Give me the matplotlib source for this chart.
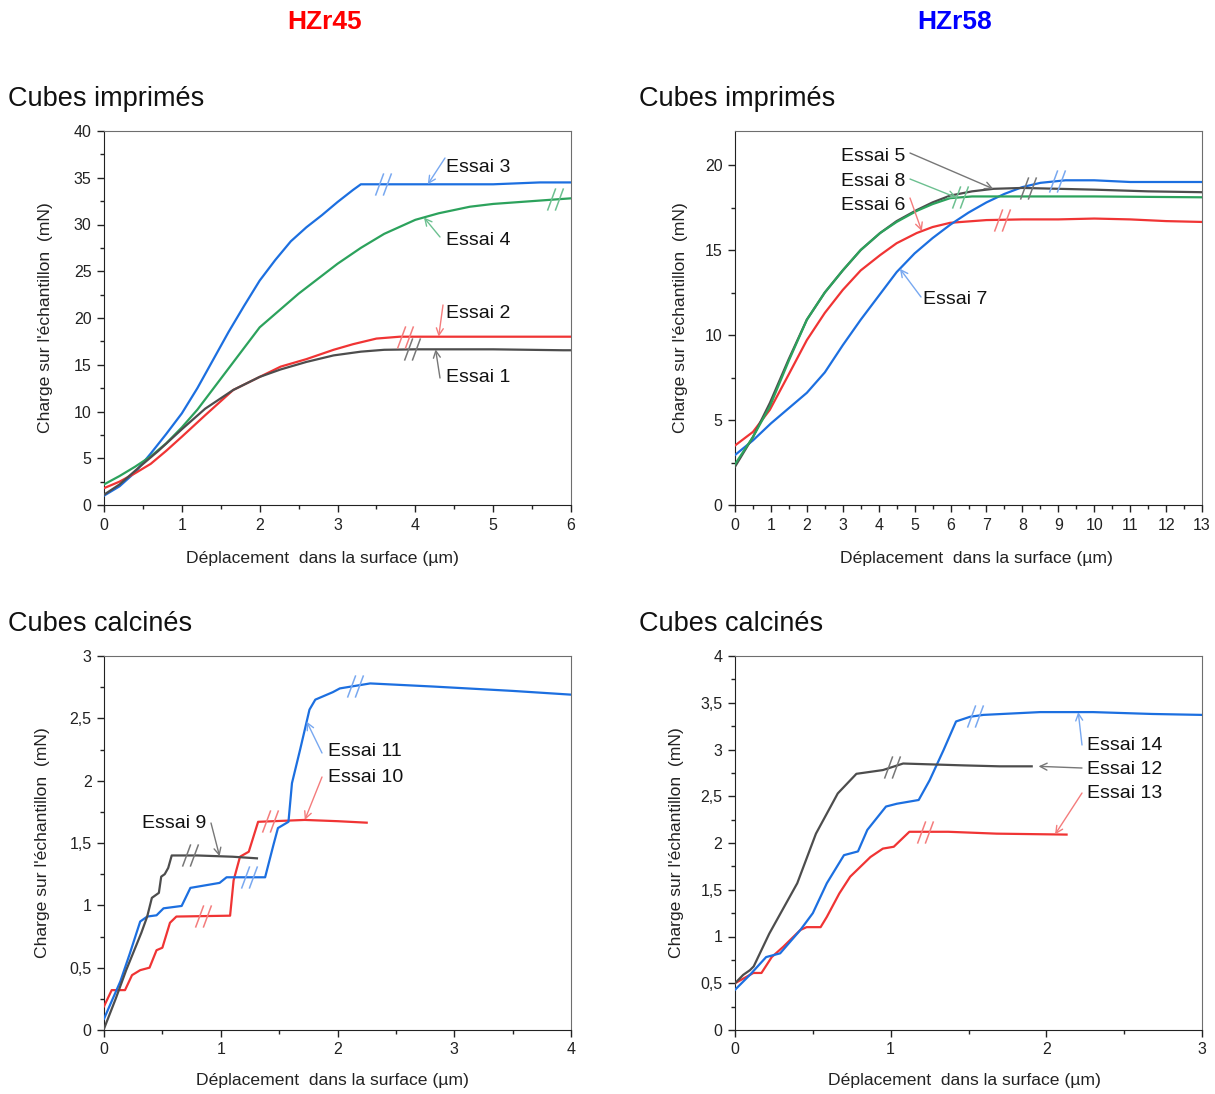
import numpy as np
import matplotlib
matplotlib.use("Agg")
import matplotlib.pyplot as plt
from matplotlib.path import Path
from matplotlib.ticker import MultipleLocator, FuncFormatter

plt.rcParams['font.family'] = ['Liberation Sans', 'DejaVu Sans']

W, H = 1215, 1094

# --- HZr45, cubes imprimés ---
e3_x = [0, 0.2, 0.4, 0.6, 0.8, 1.0, 1.2, 1.4, 1.6, 1.8, 2.0, 2.2, 2.4, 2.6, 2.8, 3.0, 3.2, 3.3, 3.5, 4.0, 5.0, 5.6, 6.0]
e3_y = [1.0, 2.0, 3.5, 5.5, 7.6, 9.8, 12.5, 15.5, 18.5, 21.3, 24.0, 26.2, 28.2, 29.7, 31.0, 32.4, 33.7, 34.3, 34.3, 34.3, 34.3, 34.5, 34.5]
e4_x = [0, 0.2, 0.4, 0.6, 0.8, 1.0, 1.2, 1.5, 2.0, 2.5, 3.0, 3.3, 3.6, 4.0, 4.3, 4.7, 5.0, 5.5, 6.0]
e4_y = [2.2, 3.1, 4.1, 5.2, 6.6, 8.3, 10.2, 13.5, 19.0, 22.6, 25.8, 27.5, 29.0, 30.5, 31.2, 31.9, 32.2, 32.5, 32.8]
e2_x = [0, 0.2, 0.4, 0.6, 0.8, 1.0, 1.3, 1.66, 2.0, 2.27, 2.6, 2.95, 3.2, 3.5, 3.8, 4.5, 5.5, 6.0]
e2_y = [1.8, 2.5, 3.4, 4.4, 5.8, 7.3, 9.6, 12.3, 13.7, 14.8, 15.6, 16.6, 17.2, 17.8, 18.0, 18.0, 18.0, 18.0]
e1_x = [0, 0.2, 0.46, 0.7, 1.0, 1.3, 1.66, 2.0, 2.27, 2.6, 2.95, 3.3, 3.6, 4.0, 5.0, 5.9, 6.0]
e1_y = [1.1, 2.2, 4.1, 5.8, 8.1, 10.3, 12.3, 13.7, 14.5, 15.3, 16.0, 16.4, 16.6, 16.65, 16.65, 16.55, 16.55]

# --- HZr58, cubes imprimés ---
e7_x = [0, 0.5, 1.0, 1.5, 2.0, 2.5, 3.0, 3.5, 4.0, 4.5, 5.0, 5.5, 6.0, 6.5, 7.0, 7.5, 8.0, 8.5, 9.2, 10.0, 11.0, 13.0]
e7_y = [2.94, 3.8, 4.8, 5.7, 6.6, 7.8, 9.4, 10.9, 12.3, 13.7, 14.8, 15.7, 16.5, 17.2, 17.8, 18.3, 18.7, 18.95, 19.1, 19.1, 19.0, 19.0]
e5_x = [0, 0.5, 0.97, 1.5, 2.0, 2.5, 3.0, 3.5, 4.04, 4.5, 5.06, 5.5, 5.99, 6.6, 7.2, 8.0, 9.0, 10.0, 11.5, 13.0]
e5_y = [2.25, 4.0, 6.0, 8.6, 10.9, 12.5, 13.8, 15.0, 16.0, 16.7, 17.35, 17.8, 18.2, 18.45, 18.6, 18.65, 18.6, 18.55, 18.45, 18.4]
e8_x = [0, 0.5, 0.97, 1.5, 2.0, 2.5, 3.0, 3.5, 4.04, 4.5, 5.06, 5.5, 5.99, 6.6, 7.2, 8.0, 10.0, 13.0]
e8_y = [2.4, 4.0, 5.8, 8.5, 10.9, 12.5, 13.8, 15.0, 16.0, 16.65, 17.3, 17.7, 18.05, 18.15, 18.15, 18.15, 18.15, 18.1]
e6_x = [0, 0.5, 0.97, 1.5, 2.0, 2.5, 3.0, 3.5, 4.04, 4.5, 5.06, 5.5, 5.99, 7.0, 8.0, 9.0, 10.0, 11.0, 12.0, 13.0]
e6_y = [3.5, 4.3, 5.6, 7.7, 9.7, 11.3, 12.65, 13.8, 14.7, 15.4, 16.0, 16.35, 16.6, 16.76, 16.8, 16.8, 16.85, 16.8, 16.7, 16.65]

# --- HZr45, cubes calcinés ---
e9_x = [0, 0.1, 0.19, 0.32, 0.37, 0.41, 0.44, 0.47, 0.49, 0.52, 0.55, 0.58, 0.8, 1.1, 1.31]
e9_y = [0.01, 0.25, 0.48, 0.78, 0.91, 1.06, 1.08, 1.10, 1.23, 1.25, 1.30, 1.40, 1.40, 1.39, 1.377]
e11_x = [0, 0.14, 0.22, 0.31, 0.37, 0.45, 0.51, 0.665, 0.74, 0.99, 1.05, 1.38, 1.45, 1.49, 1.58, 1.61, 1.68, 1.76, 1.81, 1.96, 2.02, 2.28, 2.82, 3.5, 4.0]
e11_y = [0.09, 0.39, 0.61, 0.87, 0.91, 0.92, 0.976, 0.995, 1.14, 1.18, 1.225, 1.225, 1.48, 1.62, 1.67, 1.98, 2.25, 2.57, 2.65, 2.71, 2.74, 2.78, 2.755, 2.72, 2.69]
e10_x = [0, 0.066, 0.18, 0.24, 0.31, 0.39, 0.45, 0.5, 0.565, 0.62, 1.08, 1.11, 1.165, 1.24, 1.28, 1.32, 1.72, 2.0, 2.25]
e10_y = [0.19, 0.32, 0.32, 0.44, 0.48, 0.50, 0.64, 0.66, 0.86, 0.91, 0.917, 1.2, 1.39, 1.43, 1.55, 1.67, 1.685, 1.675, 1.663]

# --- HZr58, cubes calcinés ---
e12_x = [0, 0.053, 0.096, 0.12, 0.22, 0.40, 0.52, 0.66, 0.78, 0.95, 1.08, 1.47, 1.7, 1.906]
e12_y = [0.5, 0.59, 0.64, 0.68, 1.03, 1.57, 2.1, 2.53, 2.74, 2.78, 2.85, 2.83, 2.82, 2.82]
e14_x = [0, 0.096, 0.2, 0.29, 0.42, 0.5, 0.59, 0.70, 0.79, 0.85, 0.97, 1.04, 1.18, 1.25, 1.34, 1.42, 1.51, 1.595, 1.96, 2.3, 2.68, 3.0]
e14_y = [0.43, 0.59, 0.78, 0.82, 1.07, 1.25, 1.57, 1.87, 1.91, 2.14, 2.39, 2.42, 2.46, 2.67, 2.995, 3.30, 3.35, 3.37, 3.40, 3.40, 3.38, 3.37]
e13_x = [0, 0.118, 0.17, 0.236, 0.31, 0.42, 0.46, 0.55, 0.59, 0.67, 0.74, 0.87, 0.95, 1.02, 1.12, 1.37, 1.68, 2.13]
e13_y = [0.5, 0.61, 0.61, 0.78, 0.89, 1.07, 1.1, 1.1, 1.21, 1.46, 1.64, 1.85, 1.94, 1.96, 2.12, 2.12, 2.10, 2.09]

BLUE, RED, GREEN, GRAY = '#1c6fe0', '#f03434', '#2ca25c', '#4d4d4d'
LIGHT = {BLUE: '#78a8f0', RED: '#f47c7c', GREEN: '#6cc090', GRAY: '#777777'}

break_marker = Path([(-0.72, -1), (0.02, 1), (-0.02, -1), (0.72, 1)],
                    [Path.MOVETO, Path.LINETO, Path.MOVETO, Path.LINETO])


def fig_pos(px, py):
    return px / W, 1 - py / H


fig = plt.figure(figsize=(W / 100, H / 100), dpi=100)


def make_axes(left_px, top_px, xmax, ymax, xmaj, ymaj, decimal_comma, xlabel_px, ylabel_px, xlabel_off):
    ax = fig.add_axes([left_px / W, 1 - (top_px + 374) / H, 467 / W, 374 / H])
    ax.set_xlim(0, xmax)
    ax.set_ylim(0, ymax)
    ax.xaxis.set_major_locator(MultipleLocator(xmaj))
    ax.xaxis.set_minor_locator(MultipleLocator(xmaj / 2))
    ax.yaxis.set_major_locator(MultipleLocator(ymaj))
    ax.yaxis.set_minor_locator(MultipleLocator(ymaj / 2))
    if decimal_comma:
        ax.yaxis.set_major_formatter(FuncFormatter(lambda v, p: ('%g' % v).replace('.', ',')))
    ax.tick_params(which='major', direction='out', length=5, width=1, labelsize=11.5,
                   colors='#222222', labelcolor='#222222', pad=4)
    ax.tick_params(which='minor', direction='out', length=3, width=1, colors='#222222')
    for s in ['left', 'bottom']:
        ax.spines[s].set_color('#222222')
    for s in ['top', 'right']:
        ax.spines[s].set_color('#6e6e6e')
    ax.set_xlabel('Déplacement  dans la surface (µm)', fontsize=12.6, color='#222222')
    ax.set_ylabel("Charge sur l'échantillon  (mN)", fontsize=12.6, color='#222222')
    ax.xaxis.set_label_coords((xlabel_px - left_px) / 467, -xlabel_off / 374)
    ax.yaxis.set_label_coords((ylabel_px - left_px) / 467, 0.5)
    return ax


def curve(ax, xs, ys, color, breaks):
    ax.plot(xs, ys, color=color, lw=1.6, zorder=3)
    for bx in breaks:
        by = np.interp(bx, xs, ys)
        ax.plot([bx], [by], marker=break_marker, markersize=16, markeredgewidth=1.1,
                markeredgecolor=LIGHT[color], fillstyle='none', linestyle='none', zorder=4)


def label(ax, text, text_px, tail_px, xs, ys, tip_x, color):
    tip_y = np.interp(tip_x, xs, ys)
    ax.annotate('', xy=(tip_x, tip_y), xycoords='data',
                xytext=fig_pos(*tail_px), textcoords='figure fraction',
                arrowprops=dict(arrowstyle='->,head_length=0.5,head_width=0.25',
                                color=LIGHT[color], lw=1.0, shrinkA=0, shrinkB=0),
                zorder=5)
    fig.text(*fig_pos(text_px[0], text_px[1] + 2), text, fontsize=14, color='#111111',
             ha='left', va='center')


# panel 1
ax1 = make_axes(104, 131, 6, 40, 1, 5, False, 323, 53, 46)
curve(ax1, e3_x, e3_y, BLUE, [3.59])
curve(ax1, e4_x, e4_y, GREEN, [5.8])
curve(ax1, e2_x, e2_y, RED, [3.87])
curve(ax1, e1_x, e1_y, GRAY, [3.96])
label(ax1, 'Essai 3', (446, 166), (445, 158), e3_x, e3_y, 4.16, BLUE)
label(ax1, 'Essai 4', (446, 239), (440, 237), e4_x, e4_y, 4.11, GREEN)
label(ax1, 'Essai 2', (446, 312), (443, 305), e2_x, e2_y, 4.30, RED)
label(ax1, 'Essai 1', (446, 376), (440, 378), e1_x, e1_y, 4.26, GRAY)

# panel 2
ax2 = make_axes(735, 131, 13, 22, 1, 5, False, 977, 688, 46)
curve(ax2, e6_x, e6_y, RED, [7.42])
curve(ax2, e7_x, e7_y, BLUE, [8.96])
curve(ax2, e5_x, e5_y, GRAY, [8.16])
curve(ax2, e8_x, e8_y, GREEN, [6.26])
label(ax2, 'Essai 5', (841, 155), (910, 153), e5_x, e5_y, 7.19, GRAY)
label(ax2, 'Essai 8', (841, 179), (910, 179), e8_x, e8_y, 6.17, GREEN)
label(ax2, 'Essai 6', (841, 203), (910, 198), e6_x, e6_y, 5.20, RED)
label(ax2, 'Essai 7', (923, 298), (921, 297), e7_x, e7_y, 4.59, BLUE)

# panel 3
ax3 = make_axes(104, 656, 4, 3, 1, 0.5, True, 333, 50, 43)
curve(ax3, e10_x, e10_y, RED, [0.85, 1.42])
curve(ax3, e11_x, e11_y, BLUE, [1.24, 2.15])
curve(ax3, e9_x, e9_y, GRAY, [0.74])
label(ax3, 'Essai 9', (142, 822), (211, 823), e9_x, e9_y, 0.99, GRAY)
label(ax3, 'Essai 11', (328, 750), (322, 753), e11_x, e11_y, 1.736, BLUE)
label(ax3, 'Essai 10', (328, 775), (322, 777), e10_x, e10_y, 1.72, RED)

# panel 4
ax4 = make_axes(735, 656, 3, 4, 1, 0.5, True, 965, 684, 43)
curve(ax4, e13_x, e13_y, RED, [1.22])
curve(ax4, e14_x, e14_y, BLUE, [1.54])
curve(ax4, e12_x, e12_y, GRAY, [1.01])
label(ax4, 'Essai 14', (1087, 744), (1082, 745), e14_x, e14_y, 2.205, BLUE)
label(ax4, 'Essai 12', (1087, 768), (1082, 768), e12_x, e12_y, 1.95, GRAY)
label(ax4, 'Essai 13', (1087, 792), (1082, 793), e13_x, e13_y, 2.056, RED)

# titles
fig.text(*fig_pos(325, 22), 'HZr45', fontsize=19, fontweight='bold', color='#ff0000', ha='center', va='center')
fig.text(*fig_pos(955, 22), 'HZr58', fontsize=19, fontweight='bold', color='#0000ff', ha='center', va='center')
fig.text(*fig_pos(8, 99), 'Cubes imprimés', fontsize=19.5, color='#111111', ha='left', va='center')
fig.text(*fig_pos(639, 99), 'Cubes imprimés', fontsize=19.5, color='#111111', ha='left', va='center')
fig.text(*fig_pos(8, 624), 'Cubes calcinés', fontsize=19.5, color='#111111', ha='left', va='center')
fig.text(*fig_pos(639, 624), 'Cubes calcinés', fontsize=19.5, color='#111111', ha='left', va='center')

fig.savefig('out.png', dpi=100)
